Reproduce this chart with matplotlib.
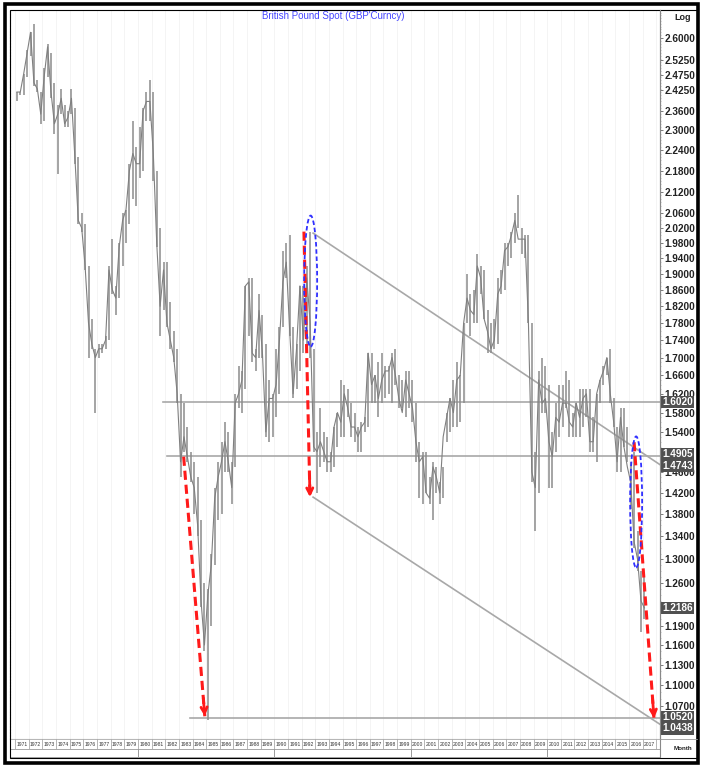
import numpy as np
import matplotlib
matplotlib.use("Agg")
import matplotlib.pyplot as plt
from matplotlib.patches import Ellipse, Rectangle
from matplotlib.transforms import ScaledTranslation
from matplotlib.ticker import FixedLocator, FuncFormatter, NullFormatter

plt.rcParams['font.family'] = ['Liberation Sans Narrow', 'Liberation Sans', 'DejaVu Sans']

# quarterly GBP/USD ranges, 1971 Q1 .. 2017 Q1
first_year = 1971
quarter_low = [
    2.39, 2.41, 2.41, 2.47,  2.54, 2.44, 2.42, 2.32,  2.33, 2.47, 2.40, 2.29,
    2.17, 2.35, 2.31, 2.31,  2.35, 2.20, 2.03, 2.01,  1.91, 1.70, 1.72, 1.58,
    1.70, 1.71, 1.72, 1.74,  1.85, 1.80, 1.84, 1.92,  1.98, 2.03, 2.10, 2.08,
    2.16, 2.18, 2.33, 2.33,  2.15, 1.97, 1.75, 1.81,  1.77, 1.72, 1.69, 1.60,
    1.45, 1.50, 1.48, 1.44,  1.38, 1.34, 1.22, 1.15,  1.05, 1.19, 1.29, 1.37,
    1.38, 1.46, 1.46, 1.40,  1.47, 1.59, 1.58, 1.63,  1.75, 1.69, 1.67, 1.70,
    1.70, 1.53, 1.52, 1.53,  1.57, 1.62, 1.77, 1.89,  1.75, 1.61, 1.63, 1.67,
    1.71, 1.72, 1.70, 1.50,  1.42, 1.47, 1.48, 1.46,  1.46, 1.47, 1.51, 1.53,
    1.53, 1.57, 1.53, 1.52,  1.50, 1.50, 1.54, 1.55,  1.60, 1.60, 1.57, 1.60,
    1.61, 1.62, 1.60, 1.64,  1.59, 1.59, 1.57, 1.59,  1.56, 1.48, 1.41, 1.40,
    1.42, 1.40, 1.37, 1.42,  1.40, 1.41, 1.52, 1.54,  1.55, 1.55, 1.56, 1.60,
    1.78, 1.75, 1.78, 1.78,  1.85, 1.79, 1.71, 1.71,  1.72, 1.73, 1.85, 1.86,
    1.92, 1.94, 1.98, 2.02,  1.95, 1.94, 1.78, 1.44,  1.35, 1.42, 1.58, 1.58,
    1.43, 1.43, 1.50, 1.53,  1.55, 1.59, 1.53, 1.53,  1.53, 1.53, 1.55, 1.57,
    1.50, 1.50, 1.48, 1.60,  1.64, 1.66, 1.60, 1.55,  1.46, 1.46, 1.51, 1.48,
    1.39, 1.32, 1.28, 1.18,  1.20,
]
quarter_high = [
    2.42, 2.42, 2.48, 2.56,  2.62, 2.65, 2.46, 2.42,  2.50, 2.58, 2.55, 2.45,
    2.38, 2.43, 2.38, 2.36,  2.43, 2.37, 2.22, 2.06,  2.03, 1.92, 1.79, 1.72,
    1.73, 1.73, 1.75, 1.92,  1.99, 1.87, 1.98, 2.06,  2.07, 2.20, 2.33, 2.25,
    2.31, 2.37, 2.42, 2.46,  2.42, 2.18, 2.02, 1.93,  1.93, 1.83, 1.76, 1.72,
    1.62, 1.60, 1.55, 1.50,  1.48, 1.45, 1.37, 1.26,  1.25, 1.31, 1.43, 1.48,
    1.52, 1.56, 1.54, 1.48,  1.62, 1.68, 1.67, 1.87,  1.89, 1.89, 1.72, 1.85,
    1.80, 1.73, 1.65, 1.62,  1.72, 1.77, 1.96, 1.98,  2.00, 1.77, 1.73, 1.87,
    1.87, 1.92, 2.01, 1.72,  1.54, 1.59, 1.54, 1.53,  1.50, 1.55, 1.58, 1.65,
    1.64, 1.63, 1.60, 1.58,  1.55, 1.56, 1.57, 1.71,  1.71, 1.66, 1.69, 1.71,
    1.68, 1.68, 1.71, 1.72,  1.66, 1.65, 1.67, 1.67,  1.65, 1.60, 1.52, 1.50,
    1.50, 1.45, 1.48, 1.47,  1.44, 1.47, 1.58, 1.61,  1.65, 1.69, 1.66, 1.78,
    1.90, 1.85, 1.86, 1.95,  1.92, 1.91, 1.81, 1.78,  1.79, 1.89, 1.91, 1.98,
    1.98, 2.01, 2.06, 2.11,  2.02, 2.00, 2.00, 1.78,  1.50, 1.67, 1.70, 1.68,
    1.64, 1.54, 1.60, 1.64,  1.64, 1.67, 1.65, 1.58,  1.60, 1.63, 1.63, 1.63,
    1.63, 1.57, 1.62, 1.65,  1.68, 1.70, 1.72, 1.61,  1.55, 1.59, 1.59, 1.55,
    1.48, 1.50, 1.35, 1.28,  1.27,
]
quarter_close = [
    2.42, 2.42, 2.48, 2.55,  2.62, 2.45, 2.43, 2.35,  2.47, 2.57, 2.42, 2.32,
    2.35, 2.40, 2.32, 2.34,  2.40, 2.22, 2.04, 2.02,  1.92, 1.78, 1.73, 1.70,
    1.72, 1.72, 1.74, 1.91,  1.86, 1.84, 1.97, 2.04,  2.07, 2.18, 2.23, 2.20,
    2.20, 2.36, 2.39, 2.39,  2.23, 1.98, 1.82, 1.91,  1.78, 1.74, 1.70, 1.62,
    1.48, 1.53, 1.49, 1.45,  1.43, 1.36, 1.23, 1.16,  1.24, 1.29, 1.41, 1.45,
    1.48, 1.52, 1.48, 1.43,  1.60, 1.62, 1.65, 1.87,  1.88, 1.71, 1.70, 1.81,
    1.71, 1.54, 1.61, 1.61,  1.64, 1.74, 1.88, 1.93,  1.76, 1.62, 1.72, 1.87,
    1.74, 1.89, 1.78, 1.51,  1.50, 1.52, 1.50, 1.48,  1.48, 1.55, 1.58, 1.56,
    1.62, 1.59, 1.55, 1.55,  1.53, 1.55, 1.56, 1.71,  1.64, 1.66, 1.61, 1.65,
    1.67, 1.67, 1.70, 1.66,  1.61, 1.58, 1.65, 1.62,  1.59, 1.52, 1.48, 1.49,
    1.42, 1.41, 1.47, 1.45,  1.42, 1.53, 1.57, 1.61,  1.58, 1.65, 1.66, 1.78,
    1.84, 1.81, 1.80, 1.92,  1.89, 1.79, 1.76, 1.72,  1.74, 1.85, 1.87, 1.96,
    1.97, 2.00, 2.04, 1.99,  1.99, 1.99, 1.78, 1.46,  1.43, 1.65, 1.60, 1.61,
    1.52, 1.49, 1.57, 1.56,  1.60, 1.60, 1.56, 1.55,  1.60, 1.57, 1.61, 1.62,
    1.52, 1.52, 1.62, 1.65,  1.67, 1.70, 1.62, 1.56,  1.48, 1.57, 1.51, 1.47,
    1.44, 1.33, 1.30, 1.23,  1.2186,
]

# price-axis ticks (those fully hidden under the boxed labels are left out)
axis_ticks = [2.6, 2.525, 2.475, 2.425, 2.36, 2.30, 2.24, 2.18, 2.12, 2.06,
              2.02, 1.98, 1.94, 1.90, 1.86, 1.82, 1.78, 1.74, 1.70, 1.66,
              1.62, 1.58, 1.54, 1.46, 1.42, 1.38, 1.34, 1.30, 1.26,
              1.19, 1.16, 1.13, 1.10, 1.07]

# horizontal support / resistance levels: (price, start year)
levels = [(1.6020, 1981.84), (1.4905, 1982.14), (1.0520, 1983.82)]
# parallel down-trend channel: (start year, start price, end price)
channel = [(1992.84, 2.006, 1.4743), (1992.84, 1.412, 1.0438)]
# red projection arrows: start (year, price) -> end (year, price)
arrows = [((1983.35, 1.49), (1984.90, 1.055)),
          ((1992.17, 2.01), (1992.61, 1.412)),
          ((2016.37, 1.519), (2017.83, 1.052))]
# blue rings: centre (year, price), width/height in px
rings = [((1992.66, 1.882), 13, 131), ((2016.52, 1.403), 12, 131)]
# boxed labels on the price axis: (value, vertical nudge in px)
boxed = [(1.6020, 0), (1.4905, 2), (1.4743, -1), (1.2186, 0), (1.0520, 1), (1.0438, -4)]

W, H = 703, 768
fig = plt.figure(figsize=(W / 100, H / 100), dpi=100)
fig.patch.set_facecolor('white')


def box(l, t, r, b):
    return [l / W, 1 - b / H, (r - l) / W, (b - t) / H]


x_lo, x_hi = 1970.62, 2018.27
ax = fig.add_axes(box(10, 10, 660, 739))
ax.set_yscale('log')

# faint year grid
for yr in range(first_year, 2019):
    ax.axvline(yr, color='#f2f2f2', lw=0.6, zorder=0)

n = len(quarter_close)
qx = first_year + (np.arange(n) + 0.5) / 4
ax.vlines(qx, quarter_low, quarter_high, color='#8c8c8c', lw=1.1, zorder=2)
ax.plot(qx, quarter_close, color='#808080', lw=0.8, zorder=2)

for price, start in levels:
    ax.plot([start, x_hi], [price, price], color='#a8a8a8', lw=1.2, zorder=1)
for start, p0, p1 in channel:
    ax.plot([start, x_hi], [p0, p1], color='#a8a8a8', lw=1.2, zorder=1)

for (x0, p0), (x1, p1) in arrows:
    ax.plot([x0, x1], [p0, p1], color='#ff1a1a', lw=2.2, ls=(0, (3, 1.6)), zorder=4)
    f = 0.07
    nx = x1 + f * (x0 - x1)
    npr = np.exp(np.log(p1) + f * (np.log(p0) - np.log(p1)))
    ax.annotate('', xy=(x1, p1), xytext=(nx, npr),
                arrowprops=dict(arrowstyle='->', color='#ff1a1a', lw=2.0,
                                mutation_scale=11, shrinkA=0, shrinkB=0), zorder=4)

for (cx, cp), w, h in rings:
    tr = fig.dpi_scale_trans + ScaledTranslation(cx, cp, ax.transData)
    ax.add_patch(Ellipse((0, 0), w / 100, h / 100, transform=tr, fill=False,
                         ec='#3030ff', lw=1.3, ls=(0, (2.5, 1.5)), zorder=5))

ax.set_xlim(x_lo, x_hi)
ax.set_ylim(1.0236, 2.699)
ax.set_xticks([])
ax.yaxis.set_major_locator(FixedLocator(axis_ticks))
ax.yaxis.set_major_formatter(FuncFormatter(lambda v, p: f'{v:.4f}'))
ax.yaxis.set_minor_formatter(NullFormatter())
ax.yaxis.set_minor_locator(FixedLocator(np.arange(1.03, 2.70, 0.01)))
ax.yaxis.tick_right()
ax.tick_params(axis='y', which='major', direction='out', length=2, width=0.6,
               pad=1.5, labelsize=7.2, labelcolor='#222222', colors='#666666')
ax.tick_params(axis='y', which='minor', direction='out', length=1, width=0.4, colors='#999999')
for lab in ax.get_yticklabels():
    lab.set_fontweight('bold')
ax.spines['top'].set_visible(False)
ax.spines['left'].set_color('#999999')
ax.spines['left'].set_linestyle(':')
ax.spines['bottom'].set_color('#aaaaaa')
ax.spines['right'].set_color('#888888')
ax.spines['right'].set_linewidth(0.8)

for v, dy in boxed:
    ax.annotate(f'{v:.4f}', xy=(1, v), xycoords=('axes fraction', 'data'),
                xytext=(1.6, dy * 0.72), textcoords='offset points', ha='left', va='center',
                color='white', fontsize=7.2, fontweight='bold', annotation_clip=False,
                bbox=dict(boxstyle='square,pad=0.12', fc='#505050', ec='none'), zorder=10)

ax.text(0.497, 0.9918, "British Pound Spot (GBP'Curncy)", transform=ax.transAxes,
        ha='center', va='center', color='#4646ff', fontsize=7)

# year row under the chart
yr_ax = fig.add_axes(box(10, 739, 660, 749))
yr_ax.set_xlim(x_lo, x_hi)
yr_ax.set_ylim(0, 1)
for yr in range(first_year, 2019):
    yr_ax.axvline(yr, color='#aaaaaa', lw=0.6)
for yr in range(first_year, 2018):
    yr_ax.text(yr + 0.5, 0.45, str(yr), ha='center', va='center', fontsize=3.6, color='#333333')
yr_ax.set_xticks([])
yr_ax.set_yticks([])
for s in yr_ax.spines.values():
    s.set_color('#aaaaaa')
    s.set_linewidth(0.6)

dec_ax = fig.add_axes(box(10, 749, 660, 757))
dec_ax.set_xlim(x_lo, x_hi)
dec_ax.set_ylim(0, 1)
for yr in [1980, 1990, 2000, 2010]:
    dec_ax.axvline(yr, color='#999999', lw=0.7)
dec_ax.set_xticks([])
dec_ax.set_yticks([])
for s in dec_ax.spines.values():
    s.set_color('#999999')
    s.set_linewidth(0.6)

# frame, right panel cells
frame = fig.add_axes([0, 0, 1, 1], zorder=20)
frame.set_xlim(0, W)
frame.set_ylim(H, 0)
frame.axis('off')
frame.patch.set_alpha(0)
frame.add_patch(Rectangle((5, 4), 693, 759, fill=False, ec='black', lw=2.6))
frame.add_patch(Rectangle((9.5, 9.5), 687, 748, fill=False, ec='black', lw=0.8))
frame.plot([660, 660], [9.5, 757], color='#888888', lw=0.8)
frame.plot([660, 697], [739, 739], color='#999999', lw=0.6)
frame.text(683, 17, 'Log', ha='center', va='center', fontsize=6.5, fontweight='bold', color='#222222')
frame.text(683, 748, 'Month', ha='center', va='center', fontsize=4.5, fontweight='bold', color='#222222')

fig.savefig('out.png', dpi=100)
